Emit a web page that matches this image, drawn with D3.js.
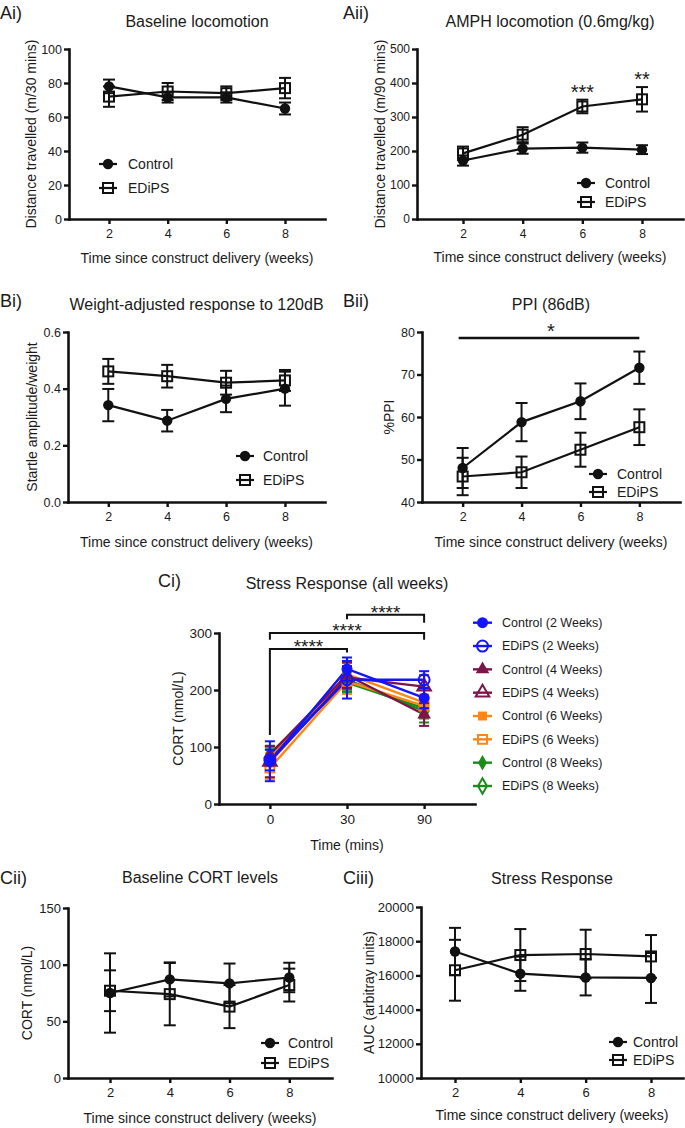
<!DOCTYPE html>
<html><head><meta charset="utf-8">
<script src="https://cdn.jsdelivr.net/npm/d3@7"></script>
<style>
body{margin:0;background:#fff;}
svg text{font-family:"Liberation Sans",Arial,sans-serif;fill:#1a1a1a;}
</style></head><body>
<svg id="c" width="685" height="1128"></svg>
<script>
// ---------------- DATA ----------------
const weeks = [2, 4, 6, 8];
const groupNames = ["Control", "EDiPS"];

// Ai) Baseline locomotion
const aiTicks = [0, 20, 40, 60, 80, 100];
const aiControl = [78, 71.5, 71.5, 65];
const aiControlErr = [4, 3, 3, 3.5];
const aiEdips = [72, 75, 74, 77];
const aiEdipsErr = [6, 5, 4, 6];

// Aii) AMPH locomotion
const aiiTicks = [0, 100, 200, 300, 400, 500];
const aiiControl = [172, 207, 210, 204];
const aiiControlErr = [15, 15, 15, 13];
const aiiEdips = [193, 248, 331, 352];
const aiiEdipsErr = [20, 22, 20, 36];
const aiiStars = ["", "", "***", "**"];

// Bi) Weight-adjusted response to 120dB
const biTicks = [0, 0.2, 0.4, 0.6];
const biControl = [0.342, 0.287, 0.364, 0.40];
const biControlErr = [0.057, 0.038, 0.047, 0.06];
const biEdips = [0.461, 0.444, 0.421, 0.429];
const biEdipsErr = [0.044, 0.04, 0.042, 0.037];

// Bii) PPI (86dB)
const biiTicks = [40, 50, 60, 70, 80];
const biiControl = [48.0, 58.8, 63.7, 71.6];
const biiControlErr = [4.7, 4.5, 4.2, 3.8];
const biiEdips = [46.0, 47.0, 52.3, 57.6];
const biiEdipsErr = [4.4, 3.7, 4.0, 4.2];
const biiSig = {from: 2, to: 8, level: 78.6, label: "*"};

// Ci) Stress response (all weeks)
const ciTimes = ["0", "30", "90"];
const ciTicks = [0, 100, 200, 300];
const ciSeries = ["Control (2 Weeks)", "EDiPS (2 Weeks)", "Control (4 Weeks)", "EDiPS (4 Weeks)",
                  "Control (6 Weeks)", "EDiPS (6 Weeks)", "Control (8 Weeks)", "EDiPS (8 Weeks)"];
const ciValues = [[75, 237, 186], [77, 218, 218], [87, 226, 157], [74, 222, 206],
                  [83, 228, 178], [63, 215, 172], [89, 213, 168], [82, 218, 163]];
const ciErrors = [[35, 20, 18], [18, 33, 15], [15, 22, 20], [27, 20, 20],
                  [17, 20, 22], [19, 22, 20], [13, 18, 18], [14, 20, 20]];
const ciBrackets = [
  {from: "0", to: "30", level: 272, leftEnd: 121, rightEnd: 266, label: "****"},
  {from: "0", to: "90", level: 300, leftEnd: 288, rightEnd: 288, label: "****"},
  {from: "30", to: "90", level: 332, leftEnd: 324, rightEnd: 318, label: "****"}
];

// Cii) Baseline CORT levels
const ciiTicks = [0, 50, 100, 150];
const ciiControl = [75, 87, 83.5, 88.7];
const ciiControlErr = [35, 15, 17.5, 13];
const ciiEdips = [77, 74, 63, 82];
const ciiEdipsErr = [18, 27.5, 19, 14.5];

// Ciii) Stress Response (AUC)
const ciiiTicks = [10000, 12000, 14000, 16000, 18000, 20000];
const ciiiControl = [17400, 16100, 15880, 15850];
const ciiiControlErr = [1380, 1000, 1050, 1460];
const ciiiEdips = [16300, 17190, 17250, 17110];
const ciiiEdipsErr = [1780, 1520, 1420, 1250];

// ---------------- STYLE ----------------
const ink = "#111";
const ciColors = ["#1414ff", "#1414ff", "#7d1548", "#7d1548", "#ff8614", "#ff8614", "#1a8c1a", "#1a8c1a"];
const ciShapes = [d3.symbolCircle, d3.symbolCircle, d3.symbolTriangle, d3.symbolTriangle,
                  d3.symbolSquare, d3.symbolSquare, d3.symbolDiamond, d3.symbolDiamond];
const ciFilled = [true, false, true, false, true, false, true, false];
const ciSizes = [95, 95, 80, 80, 80, 80, 70, 70];

const svg = d3.select("#c");

function styleAxis(gAxis, fontSize) {
  gAxis.attr("font-family", null).attr("font-size", null);
  gAxis.select(".domain").attr("stroke", ink).attr("stroke-width", 2.6).attr("stroke-linecap", "square");
  gAxis.selectAll(".tick line").attr("stroke", ink).attr("stroke-width", 2.4);
  gAxis.selectAll(".tick text").style("font-size", fontSize + "px").attr("fill", "#1a1a1a");
}

function starText(g, x, glyphCenterY, label, size) {
  g.append("text").attr("x", x).attr("y", glyphCenterY + 0.57 * size)
    .attr("text-anchor", "middle").style("font-size", size + "px").text(label);
}

function drawWeekPanel(p) {
  const g = svg.append("g");
  const x = d3.scaleLinear().domain(p.xDomain).range([p.left, p.right]);
  const y = d3.scaleLinear().domain(p.yDomain).range([p.bottom, p.top]);

  const gx = g.append("g").attr("transform", `translate(0,${p.bottom})`)
    .call(d3.axisBottom(x).tickValues(weeks).tickFormat(d3.format("d")).tickSize(5).tickPadding(5).tickSizeOuter(0));
  styleAxis(gx, p.tickFont);
  const gy = g.append("g").attr("transform", `translate(${p.left},0)`)
    .call(d3.axisLeft(y).tickValues(p.yTicks).tickFormat(p.yFormat || d3.format("d")).tickSize(5).tickPadding(2).tickSizeOuter(0));
  styleAxis(gy, p.tickFont);

  // texts
  g.append("text").attr("x", p.tag[0]).attr("y", p.tag[1]).style("font-size", "18px").text(p.tagText);
  g.append("text").attr("x", (p.left + p.right) / 2).attr("y", p.titleY).attr("text-anchor", "middle")
    .style("font-size", "16px").text(p.title);
  g.append("text").attr("x", (p.left + p.right) / 2).attr("y", p.xLabelY).attr("text-anchor", "middle")
    .style("font-size", "14px").text("Time since construct delivery (weeks)");
  g.append("text").attr("transform", `translate(${p.yLabelX},${(p.top + p.bottom) / 2}) rotate(-90)`)
    .attr("text-anchor", "middle").attr("dy", "0.35em").style("font-size", "14px").text(p.yLabel);

  const series = [
    {vals: p.control, errs: p.controlErr, filled: true},
    {vals: p.edips, errs: p.edipsErr, filled: false}
  ];
  const line = d3.line().x((d, i) => x(weeks[i])).y(d => y(d));
  series.forEach(s => {
    g.append("path").datum(s.vals).attr("d", line).attr("fill", "none")
      .attr("stroke", ink).attr("stroke-width", 2.2);
    const eb = g.append("g").attr("stroke", ink).attr("stroke-width", 2);
    s.vals.forEach((v, i) => {
      const cx = x(weeks[i]);
      const y1 = y(v + s.errs[i]), y2 = y(v - s.errs[i]);
      eb.append("line").attr("x1", cx).attr("x2", cx).attr("y1", y1).attr("y2", y2);
      eb.append("line").attr("x1", cx - 6).attr("x2", cx + 6).attr("y1", y1).attr("y2", y1);
      eb.append("line").attr("x1", cx - 6).attr("x2", cx + 6).attr("y1", y2).attr("y2", y2);
    });
  });
  series.forEach(s => {
    s.vals.forEach((v, i) => drawMarker(g, x(weeks[i]), y(v), s.filled));
  });

  // legend
  groupNames.forEach((name, k) => {
    const ly = p.legend.y[k];
    g.append("line").attr("x1", p.legend.mx - 9).attr("x2", p.legend.mx + 9).attr("y1", ly).attr("y2", ly)
      .attr("stroke", ink).attr("stroke-width", 2.2);
    drawMarker(g, p.legend.mx, ly, k === 0);
    g.append("text").attr("x", p.legend.tx).attr("y", ly).attr("dy", "0.35em")
      .style("font-size", "14px").text(name);
  });
  return {g, x, y};
}

function drawMarker(g, cx, cy, filled) {
  if (filled) {
    g.append("circle").attr("cx", cx).attr("cy", cy).attr("r", 5.2).attr("fill", ink);
  } else {
    g.append("rect").attr("x", cx - 5).attr("y", cy - 5).attr("width", 10).attr("height", 10)
      .attr("fill", "none").attr("stroke", ink).attr("stroke-width", 2);
  }
}

// ---------- Ai ----------
drawWeekPanel({
  left: 69, right: 325, top: 49, bottom: 219, xDomain: [0.636, 9.364], yDomain: [0, 100],
  yTicks: aiTicks, tickFont: 12.5, tag: [0, 19], tagText: "Ai)", title: "Baseline locomotion", titleY: 27,
  xLabelY: 263, yLabelX: 31, yLabel: "Distance travelled (m/30 mins)",
  control: aiControl, controlErr: aiControlErr, edips: aiEdips, edipsErr: aiEdipsErr,
  legend: {mx: 108, tx: 128, y: [164, 188]}
});

// ---------- Aii ----------
const aii = drawWeekPanel({
  left: 417, right: 683, top: 49, bottom: 219, xDomain: [0.458, 9.374], yDomain: [0, 500],
  yTicks: aiiTicks, tickFont: 12, tag: [343, 19], tagText: "Aii)", title: "AMPH locomotion (0.6mg/kg)", titleY: 27,
  xLabelY: 262, yLabelX: 380, yLabel: "Distance travelled (m/90 mins)",
  control: aiiControl, controlErr: aiiControlErr, edips: aiiEdips, edipsErr: aiiEdipsErr,
  legend: {mx: 586, tx: 605, y: [183, 202]}
});
aiiStars.forEach((s, i) => {
  if (s) starText(aii.g, aii.x(weeks[i]), aii.y(aiiEdips[i] + aiiEdipsErr[i]) - 12, s, 20);
});

// ---------- Bi ----------
drawWeekPanel({
  left: 68, right: 325, top: 332, bottom: 502, xDomain: [0.632, 9.36], yDomain: [0, 0.6],
  yTicks: biTicks, yFormat: d3.format(".1f"), tickFont: 12.5, tag: [0, 307], tagText: "Bi)",
  title: "Weight-adjusted response to 120dB", titleY: 310,
  xLabelY: 547, yLabelX: 32, yLabel: "Startle amplitude/weight",
  control: biControl, controlErr: biControlErr, edips: biEdips, edipsErr: biEdipsErr,
  legend: {mx: 245, tx: 263, y: [456, 480]}
});

// ---------- Bii ----------
const bii = drawWeekPanel({
  left: 422, right: 680, top: 332, bottom: 502, xDomain: [0.62, 9.38], yDomain: [40, 80],
  yTicks: biiTicks, tickFont: 12.5, tag: [343, 307], tagText: "Bii)", title: "PPI (86dB)", titleY: 310,
  xLabelY: 547, yLabelX: 389, yLabel: "%PPI",
  control: biiControl, controlErr: biiControlErr, edips: biiEdips, edipsErr: biiEdipsErr,
  legend: {mx: 598, tx: 617, y: [474, 492]}
});
bii.g.append("line").attr("x1", bii.x(biiSig.from) - 4).attr("x2", bii.x(biiSig.to))
  .attr("y1", bii.y(biiSig.level)).attr("y2", bii.y(biiSig.level)).attr("stroke", ink).attr("stroke-width", 2.4);
starText(bii.g, (bii.x(biiSig.from) + bii.x(biiSig.to)) / 2, bii.y(biiSig.level) - 11, biiSig.label, 20);

// ---------- Cii ----------
drawWeekPanel({
  left: 68, right: 332, top: 908, bottom: 1078, xDomain: [0.594, 9.43], yDomain: [0, 150],
  yTicks: ciiTicks, tickFont: 13, tag: [0, 884], tagText: "Cii)", title: "Baseline CORT levels", titleY: 883,
  xLabelY: 1123, yLabelX: 27, yLabel: "CORT (nmol/L)",
  control: ciiControl, controlErr: ciiControlErr, edips: ciiEdips, edipsErr: ciiEdipsErr,
  legend: {mx: 270, tx: 288, y: [1043, 1063]}
});

// ---------- Ciii ----------
drawWeekPanel({
  left: 421, right: 683, top: 907, bottom: 1078, xDomain: [0.959, 8.98], yDomain: [10000, 20000],
  yTicks: ciiiTicks, tickFont: 13, tag: [343, 884], tagText: "Ciii)", title: "Stress Response", titleY: 884,
  xLabelY: 1120, yLabelX: 369, yLabel: "AUC (arbitray units)",
  control: ciiiControl, controlErr: ciiiControlErr, edips: ciiiEdips, edipsErr: ciiiEdipsErr,
  legend: {mx: 618, tx: 633, y: [1042, 1060]}
});

// ---------- Ci ----------
(function () {
  const L = 219, R = 475, T = 633, B = 804;
  const g = svg.append("g");
  const x = d3.scalePoint().domain(ciTimes).range([L, R]).padding(0.66);
  const y = d3.scaleLinear().domain([0, 300]).range([B, T]);
  const gx = g.append("g").attr("transform", `translate(0,${B})`)
    .call(d3.axisBottom(x).tickSize(5).tickPadding(5).tickSizeOuter(0));
  styleAxis(gx, 13.5);
  const gy = g.append("g").attr("transform", `translate(${L},0)`)
    .call(d3.axisLeft(y).tickValues(ciTicks).tickSize(5).tickPadding(2).tickSizeOuter(0));
  styleAxis(gy, 13.5);

  g.append("text").attr("x", 158).attr("y", 587).style("font-size", "18px").text("Ci)");
  g.append("text").attr("x", (L + R) / 2).attr("y", 589).attr("text-anchor", "middle")
    .style("font-size", "16px").text("Stress Response (all weeks)");
  g.append("text").attr("x", (L + R) / 2).attr("y", 850).attr("text-anchor", "middle")
    .style("font-size", "14px").text("Time (mins)");
  g.append("text").attr("transform", `translate(178,${(T + B) / 2}) rotate(-90)`)
    .attr("text-anchor", "middle").attr("dy", "0.35em").style("font-size", "14px").text("CORT (nmol/L)");

  // brackets
  ciBrackets.forEach(b => {
    const x1 = x(b.from), x2 = x(b.to), yl = y(b.level);
    g.append("path").attr("d", `M${x1},${y(b.leftEnd)}V${yl}H${x2}V${y(b.rightEnd)}`)
      .attr("fill", "none").attr("stroke", ink).attr("stroke-width", 2);
    starText(g, (x1 + x2) / 2, yl - 6.5, b.label, 19);
  });

  const line = d3.line().x((d, i) => x(ciTimes[i])).y(d => y(d));
  const order = d3.range(ciSeries.length).reverse();
  order.forEach(k => {
    g.append("path").datum(ciValues[k]).attr("d", line).attr("fill", "none")
      .attr("stroke", ciColors[k]).attr("stroke-width", 2.4);
  });
  order.forEach(k => {
    const eb = g.append("g").attr("stroke", ciColors[k]).attr("stroke-width", 2);
    ciValues[k].forEach((v, i) => {
      const cx = x(ciTimes[i]);
      const y1 = y(v + ciErrors[k][i]), y2 = y(v - ciErrors[k][i]);
      eb.append("line").attr("x1", cx).attr("x2", cx).attr("y1", y1).attr("y2", y2);
      eb.append("line").attr("x1", cx - 5).attr("x2", cx + 5).attr("y1", y1).attr("y2", y1);
      eb.append("line").attr("x1", cx - 5).attr("x2", cx + 5).attr("y1", y2).attr("y2", y2);
    });
    ciValues[k].forEach((v, i) => ciMarker(g, x(ciTimes[i]), y(v), k));
  });

  function ciMarker(gg, cx, cy, k) {
    gg.append("path").attr("d", d3.symbol().type(ciShapes[k]).size(ciSizes[k])())
      .attr("transform", `translate(${cx},${cy})`)
      .attr("fill", ciFilled[k] ? ciColors[k] : "none")
      .attr("stroke", ciColors[k]).attr("stroke-width", ciFilled[k] ? 0 : 2);
  }

  // legend
  ciSeries.forEach((name, k) => {
    const ly = 622.7 + k * 23.33;
    g.append("line").attr("x1", 473).attr("x2", 492).attr("y1", ly).attr("y2", ly)
      .attr("stroke", ciColors[k]).attr("stroke-width", 2.4);
    ciMarker(g, 482.5, ly, k);
    g.append("text").attr("x", 502).attr("y", ly).attr("dy", "0.35em")
      .style("font-size", "12.5px").text(name);
  });
})();
</script>
</body></html>
